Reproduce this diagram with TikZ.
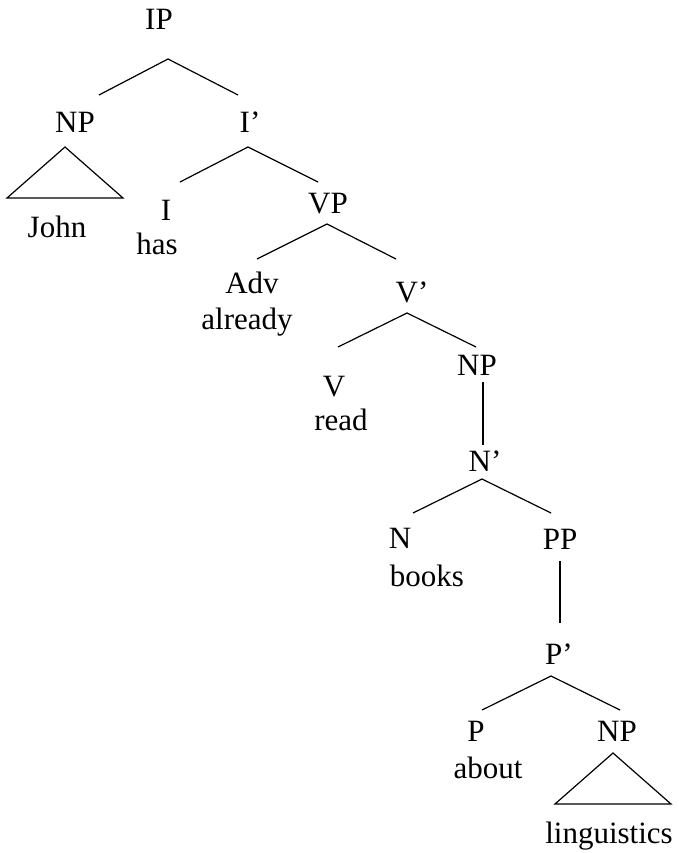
\documentclass[tikz,border=0pt]{standalone}
\usepackage{fontspec}
\setmainfont{Liberation Serif}
\begin{document}
\begin{tikzpicture}[x=1pt,y=-1pt,
  lab/.style={inner sep=0pt,anchor=base,font=\fontsize{31}{36}\selectfont},
  edge/.style={line width=1.2pt,line join=miter}]
\useasboundingbox (0,0) rectangle (678,853);
% labels
\node[lab] (IP) at (159,30) {IP};
\node[lab] (NPa) at (75,133) {NP};
\node[lab] (Ibar) at (250,133) {I’};
\node[lab] (John) at (57,237) {John};
\node[lab] (I) at (166,220) {I};
\node[lab] (has) at (157,254) {has};
\node[lab] (VP) at (328,213) {VP};
\node[lab] (Adv) at (252,293) {Adv};
\node[lab] (already) at (247,329) {already};
\node[lab] (Vbar) at (412,302) {V’};
\node[lab] (V) at (334,396) {V};
\node[lab] (read) at (341,430) {read};
\node[lab] (NPb) at (477,375) {NP};
\node[lab] (Nbar) at (485,471) {N’};
\node[lab] (N) at (400,548) {N};
\node[lab] (books) at (427,586) {books};
\node[lab] (PP) at (560,549) {PP};
\node[lab] (Pbar) at (559,664) {P’};
\node[lab] (P) at (476,741) {P};
\node[lab] (about) at (488,778) {about};
\node[lab] (NPc) at (617,741) {NP};
\node[lab] (ling) at (609,843) {linguistics};
% connector points
\coordinate (IPa) at (168,59);  \coordinate (IPl) at (99,95);   \coordinate (IPr) at (238,95);
\coordinate (Iba) at (248,147); \coordinate (Ibl) at (180,182); \coordinate (Ibr) at (318,182);
\coordinate (VPa) at (327,224); \coordinate (VPl) at (257,259); \coordinate (VPr) at (396,259);
\coordinate (Vba) at (407,313); \coordinate (Vbl) at (338,347); \coordinate (Vbr) at (476,347);
\coordinate (NPbt) at (483,382); \coordinate (NPbb) at (483,445);
\coordinate (Nba) at (482,479); \coordinate (Nbl) at (413,513); \coordinate (Nbr) at (551,513);
\coordinate (PPt) at (560,561); \coordinate (PPb) at (560,623);
\coordinate (Pba) at (551,676); \coordinate (Pbl) at (482,710); \coordinate (Pbr) at (620,710);
\coordinate (T1a) at (65,147);  \coordinate (T1l) at (7,198);   \coordinate (T1r) at (123,198);
\coordinate (T2a) at (613,753); \coordinate (T2l) at (555,804); \coordinate (T2r) at (671,804);
% connectors
\draw[edge] (IPl) -- (IPa) -- (IPr);
\draw[edge] (Ibl) -- (Iba) -- (Ibr);
\draw[edge] (VPl) -- (VPa) -- (VPr);
\draw[edge] (Vbl) -- (Vba) -- (Vbr);
\draw[edge] (NPbt) -- (NPbb);
\draw[edge] (Nbl) -- (Nba) -- (Nbr);
\draw[edge] (PPt) -- (PPb);
\draw[edge] (Pbl) -- (Pba) -- (Pbr);
\draw[edge] (T1a) -- (T1l) -- (T1r) -- cycle;
\draw[edge] (T2a) -- (T2l) -- (T2r) -- cycle;
\end{tikzpicture}
\end{document}
